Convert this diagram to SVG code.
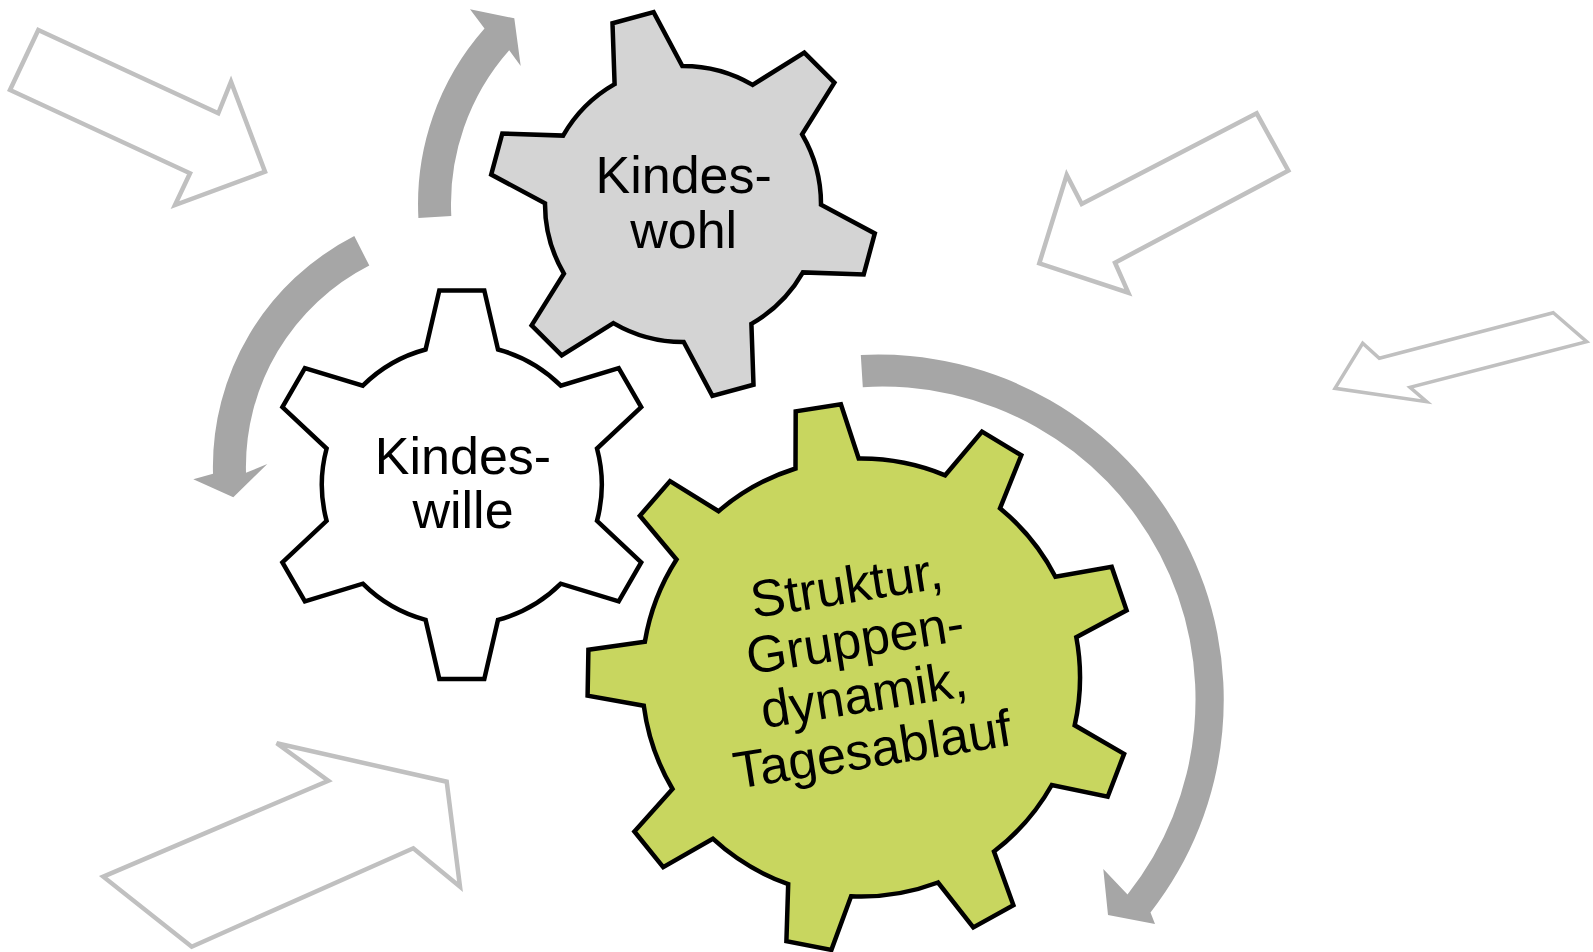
<svg xmlns="http://www.w3.org/2000/svg" width="1593" height="952" viewBox="0 0 1593 952">
<style>
.bg{fill:#FFFFFF}
.hollow{fill:#FFFFFF;stroke:#C0C0C0;stroke-width:4.5;stroke-linejoin:miter}
.thin{stroke-width:3.5}
.cyc{fill:#A6A6A6;stroke:none}
.gear{stroke:#000000;stroke-width:4.5;stroke-linejoin:miter}
.lbl{font-family:"Liberation Sans",Arial,Helvetica,sans-serif;font-size:52px;fill:#000000;text-anchor:middle}
</style>
<rect class="bg" x="0" y="0" width="1593" height="952"/>
<g id="connectors">
  <polygon class="hollow" points="38.3,30 218.3,113.3 231,81.7 265,171.7 175,205 190,173.3 10,90"/>
  <polygon class="hollow" points="1256.7,113.3 1288.3,170.7 1115,262.7 1128.3,292.7 1039.3,263.3 1066.7,175 1081.7,204"/>
  <polygon class="hollow thin" points="1553.3,312.7 1586.7,341.7 1410,387.3 1426.7,401.7 1335,388.3 1362.7,343.3 1379.3,358.3"/>
  <polygon class="hollow" points="276.7,743.3 446.7,781.7 460,886.7 413.3,848.3 191.7,946.7 103.3,876.7 328.3,780.7"/>
  <path class="cyc" d="M451.3,216.1 L418.4,217.9 A265,265 0 0 1 484.5,28.4 L470,9.3 L514.3,18.3 L520.7,66 L509.2,50.3 A232,232 0 0 0 451.3,216.1 Z"/>
  <path class="cyc" d="M354.3,236.1 A259,259 0 0 0 213,473.7 L193.3,479.3 L233.3,497.3 L267.3,464 L246,472.8 A226,226 0 0 1 369.3,265.5 Z"/>
  <path class="cyc" d="M860.8,355 A345.3,345.3 0 0 1 1150.5,912.5 L1155,924 L1108,915 L1103.3,869 L1127.5,894.4 A313,313 0 0 0 862.8,387.2 Z"/>
</g>
<g id="gear-kindeswohl">
  <path class="gear" fill="#D4D4D4" d="M614.6,84.1 L612.5,23.3 L653.6,12.2 L682.3,66 A138,138 0 0 1 752.6,84.9 L804.3,52.6 L834.4,82.7 L802.1,134.4 A138,138 0 0 1 821,204.7 L874.8,233.4 L863.7,274.5 L802.9,272.4 A138,138 0 0 1 751.4,323.9 L753.5,384.7 L712.4,395.8 L683.7,342 A138,138 0 0 1 613.4,323.1 L561.7,355.4 L531.6,325.3 L563.9,273.6 A138,138 0 0 1 545,203.3 L491.2,174.6 L502.3,133.5 L563.1,135.6 A138,138 0 0 1 614.6,84.1 Z"/>
  <text class="lbl" x="683.7" y="192.7">Kindes-</text>
  <text class="lbl" x="683.7" y="248.3">wohl</text>
</g>
<g id="gear-kindeswille">
  <path class="gear" fill="#FFFFFF" d="M425.6,349.5 L439.3,290.5 L484.3,290.5 L498,349.5 A140,140 0 0 1 560.8,385.7 L618.7,368.1 L641.2,407.1 L597,448.5 A140,140 0 0 1 597,520.9 L641.2,562.3 L618.7,601.3 L560.8,583.7 A140,140 0 0 1 498,619.9 L484.3,678.9 L439.3,678.9 L425.6,619.9 A140,140 0 0 1 362.8,583.7 L304.9,601.3 L282.4,562.3 L326.6,520.9 A140,140 0 0 1 326.6,448.5 L282.4,407.1 L304.9,368.1 L362.8,385.7 A140,140 0 0 1 425.6,349.5 Z"/>
  <text class="lbl" x="463" y="474">Kindes-</text>
  <text class="lbl" x="463" y="528.3">wille</text>
</g>
<g id="gear-struktur">
  <path class="gear" fill="#C8D65F" d="M795.5,468.5 L795.7,411.4 L840.9,404.2 L858.7,458.5 A219,219 0 0 1 945.2,475.3 L982,431.6 L1021.3,455.3 L1000,508.3 A219,219 0 0 1 1055.4,576.7 L1111.7,566.9 L1126.6,610.3 L1076.3,637.2 A219,219 0 0 1 1074.7,725.3 L1124.1,753.9 L1107.7,796.7 L1051.8,785 A219,219 0 0 1 994,851.5 L1013.4,905.2 L973.3,927.4 L938,882.5 A219,219 0 0 1 851.1,896.3 L831.4,949.9 L786.4,941.1 L788.2,884.1 A219,219 0 0 1 712.8,838.7 L663.2,867.1 L634.4,831.5 L672.5,789 A219,219 0 0 1 643.8,705.7 L587.6,695.7 L588.4,649.8 L644.9,641.7 A219,219 0 0 1 676.5,559.5 L639.9,515.7 L670,481.1 L718.5,511.2 A219,219 0 0 1 795.5,468.5 Z"/>
  <g transform="translate(861,678) rotate(-9)">
    <text class="lbl" x="0" y="-76">Struktur,</text>
    <text class="lbl" x="0" y="-21">Gruppen-</text>
    <text class="lbl" x="0" y="34.5">dynamik,</text>
    <text class="lbl" x="0" y="90">Tagesablauf</text>
  </g>
</g>
</svg>
